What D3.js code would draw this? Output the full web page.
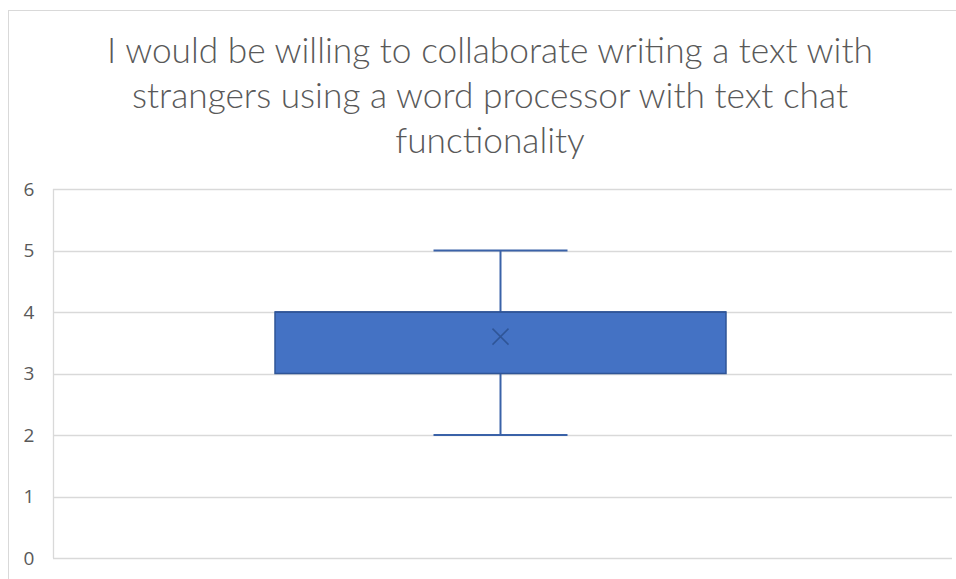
<!DOCTYPE html>
<html>
<head>
<meta charset="utf-8">
<script src="https://cdn.jsdelivr.net/npm/d3@7"></script>
<style>
  html, body { margin: 0; padding: 0; background: #fff; }
  svg { display: block; }
</style>
</head>
<body>
<svg id="chart" width="956" height="579"></svg>
<script>
// Chart title, one entry per line
const titleLines = [
  "I would be willing to collaborate writing a text with",
  "strangers using a word processor with text chat",
  "functionality"
];

// Box-and-whisker summary for the single series
const categories = ["Responses"];
const whiskerLow = [2];
const quartile1 = [3];
const medians = [4];
const quartile3 = [4];
const whiskerHigh = [5];
const means = [3.6];

// Y axis ticks
const yTicks = [0, 1, 2, 3, 4, 5, 6];

const svg = d3.select("#chart");
const W = 956, H = 579;
const plot = { left: 53, right: 948, top: 189, bottom: 558 };
const titleFont = "Lato, 'Open Sans', 'Liberation Sans', sans-serif";
const tickFont = "'Open Sans', 'Liberation Sans', sans-serif";

// Outer chart border
svg.append("rect")
  .attr("x", 8.5).attr("y", 10.5)
  .attr("width", W - 8).attr("height", H)
  .attr("fill", "#fff").attr("stroke", "#d9d9d9").attr("stroke-width", 1);

// Title: size chosen so the longest line spans the intended width
const title = svg.append("text")
  .attr("text-anchor", "middle")
  .attr("font-family", titleFont)
  .attr("font-weight", 300)
  .attr("font-size", 32)
  .attr("fill", "#595959");
titleLines.forEach((line, i) => {
  title.append("tspan").attr("x", 490).attr("y", 63 + i * 45).text(line);
});
const measured = title.select("tspan").node().getComputedTextLength();
title.attr("font-size", 32 * 766 / measured);

const y = d3.scaleLinear().domain([0, 6]).range([plot.bottom, plot.top]);
const x = d3.scaleBand().domain(categories).range([plot.left, plot.right]).paddingInner(0).paddingOuter(0.25);

// Gridlines
svg.append("g").selectAll("line").data(yTicks).join("line")
  .attr("x1", plot.left).attr("x2", 952)
  .attr("y1", d => Math.round(y(d)) + 0.5).attr("y2", d => Math.round(y(d)) + 0.5)
  .attr("stroke", "#d9d9d9").attr("stroke-width", 1.3);

// Vertical axis line
svg.append("line")
  .attr("x1", plot.left + 0.5).attr("x2", plot.left + 0.5)
  .attr("y1", plot.top).attr("y2", plot.bottom)
  .attr("stroke", "#d9d9d9").attr("stroke-width", 1.3);

// Y tick labels
svg.append("g").selectAll("text").data(yTicks).join("text")
  .attr("x", 29).attr("y", d => y(d))
  .attr("dy", "0.36em")
  .attr("text-anchor", "middle")
  .attr("font-family", tickFont)
  .attr("font-size", 19)
  .attr("fill", "#595959")
  .text(d => d);

// Boxes
const boxW = 451, capW = 134;
const g = svg.append("g");
categories.forEach((c, i) => {
  const cx = x(c) + x.bandwidth() / 2;
  const stroke = "#3a62a8";
  // whiskers
  g.append("line").attr("x1", cx).attr("x2", cx)
    .attr("y1", y(whiskerHigh[i])).attr("y2", y(quartile3[i]))
    .attr("stroke", stroke).attr("stroke-width", 2);
  g.append("line").attr("x1", cx).attr("x2", cx)
    .attr("y1", y(quartile1[i])).attr("y2", y(whiskerLow[i]))
    .attr("stroke", stroke).attr("stroke-width", 2);
  g.append("line").attr("x1", cx - capW / 2).attr("x2", cx + capW / 2)
    .attr("y1", y(whiskerHigh[i])).attr("y2", y(whiskerHigh[i]))
    .attr("stroke", stroke).attr("stroke-width", 2);
  g.append("line").attr("x1", cx - capW / 2).attr("x2", cx + capW / 2)
    .attr("y1", y(whiskerLow[i])).attr("y2", y(whiskerLow[i]))
    .attr("stroke", stroke).attr("stroke-width", 2);
  // box
  g.append("rect")
    .attr("x", cx - boxW / 2).attr("y", y(quartile3[i]))
    .attr("width", boxW).attr("height", y(quartile1[i]) - y(quartile3[i]))
    .attr("fill", "#4472c4").attr("stroke", "#2f5597").attr("stroke-width", 1.5);
  // median
  g.append("line").attr("x1", cx - boxW / 2).attr("x2", cx + boxW / 2)
    .attr("y1", y(medians[i])).attr("y2", y(medians[i]))
    .attr("stroke", "#2f5597").attr("stroke-width", 1.5);
  // mean marker
  const my = y(means[i]), s = 8;
  g.append("path")
    .attr("d", `M${cx - s},${my - s}L${cx + s},${my + s}M${cx - s},${my + s}L${cx + s},${my - s}`)
    .attr("stroke", "#2f5597").attr("stroke-width", 1.5).attr("fill", "none");
});
</script>
</body>
</html>
